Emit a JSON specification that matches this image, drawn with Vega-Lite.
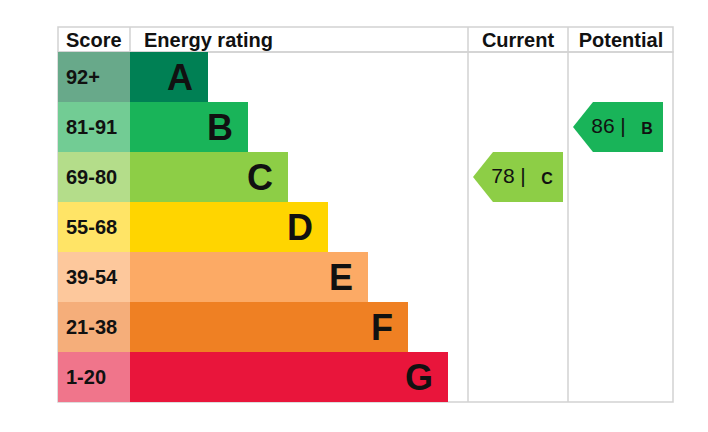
{
  "$schema": "https://vega.github.io/schema/vega-lite/v6.json",
  "autosize": {"type": "pad"},
  "bounds": "flush",
  "padding": {"left": 57, "top": 25, "right": 0, "bottom": 0},
  "spacing": 0,
  "config": {
    "font": "Liberation Sans",
    "view": {"stroke": "#d2d2d2", "strokeWidth": 1.5},
    "text": {"color": "#111111"}
  },
  "datasets": {
    "ratings": [
      {"rating": "A", "range": "92+", "end": 150},
      {"rating": "B", "range": "81-91", "end": 190},
      {"rating": "C", "range": "69-80", "end": 230},
      {"rating": "D", "range": "55-68", "end": 270},
      {"rating": "E", "range": "39-54", "end": 310},
      {"rating": "F", "range": "21-38", "end": 350},
      {"rating": "G", "range": "1-20", "end": 390}
    ],
    "arrows": [
      {"col": "Current", "score": 78, "rating": "C"},
      {"col": "Potential", "score": 86, "rating": "B"}
    ],
    "headers": [
      {"h": "Score"},
      {"h": "Energy rating"},
      {"h": "Current"},
      {"h": "Potential"}
    ],
    "one": [{}]
  },
  "vconcat": [
    {
      "width": 615,
      "height": 25,
      "layer": [
        {
          "data": {"name": "one"},
          "mark": {"type": "rule", "color": "#d2d2d2", "strokeWidth": 1.5},
          "encoding": {"x": {"datum": 72, "type": "quantitative", "scale": {"domain": [0, 615], "nice": false}, "axis": null}}
        },
        {
          "data": {"name": "one"},
          "mark": {"type": "rule", "color": "#d2d2d2", "strokeWidth": 1.5},
          "encoding": {"x": {"datum": 410, "type": "quantitative", "axis": null}}
        },
        {
          "data": {"name": "one"},
          "mark": {"type": "rule", "color": "#d2d2d2", "strokeWidth": 1.5},
          "encoding": {"x": {"datum": 510, "type": "quantitative", "axis": null}}
        },
        {
          "data": {"name": "headers"},
          "transform": [{"filter": "datum.h === 'Score'"}],
          "mark": {"type": "text", "align": "left", "baseline": "middle", "fontSize": 20, "fontWeight": "bold", "dx": 8, "dy": 1},
          "encoding": {"x": {"datum": 0, "type": "quantitative", "axis": null}, "text": {"field": "h"}}
        },
        {
          "data": {"name": "headers"},
          "transform": [{"filter": "datum.h === 'Energy rating'"}],
          "mark": {"type": "text", "align": "left", "baseline": "middle", "fontSize": 20, "fontWeight": "bold", "dx": 14, "dy": 1},
          "encoding": {"x": {"datum": 72, "type": "quantitative", "axis": null}, "text": {"field": "h"}}
        },
        {
          "data": {"name": "headers"},
          "transform": [{"filter": "datum.h === 'Current'"}],
          "mark": {"type": "text", "align": "center", "baseline": "middle", "fontSize": 20, "fontWeight": "bold", "dy": 1},
          "encoding": {"x": {"datum": 460, "type": "quantitative", "axis": null}, "text": {"field": "h"}}
        },
        {
          "data": {"name": "headers"},
          "transform": [{"filter": "datum.h === 'Potential'"}],
          "mark": {"type": "text", "align": "center", "baseline": "middle", "fontSize": 20, "fontWeight": "bold", "dy": 1},
          "encoding": {"x": {"datum": 563, "type": "quantitative", "axis": null}, "text": {"field": "h"}}
        }
      ]
    },
    {
      "width": 615,
      "height": 350,
      "layer": [
        {
          "data": {"name": "ratings"},
          "mark": {"type": "rect"},
          "encoding": {
            "x": {"datum": 0, "type": "quantitative", "scale": {"domain": [0, 615], "nice": false}, "axis": null},
            "x2": {"datum": 72},
            "y": {"field": "rating", "type": "nominal", "scale": {"domain": ["A", "B", "C", "D", "E", "F", "G"], "paddingInner": 0, "paddingOuter": 0}, "axis": null},
            "fill": {"field": "rating", "type": "nominal", "legend": null,
              "scale": {"domain": ["A", "B", "C", "D", "E", "F", "G"],
                "range": ["#68a98a", "#72cc94", "#b4dd8a", "#ffe466", "#fdc89c", "#f5ae7a", "#f0758b"]}}
          }
        },
        {
          "data": {"name": "ratings"},
          "mark": {"type": "rect"},
          "encoding": {
            "x": {"field": "end", "type": "quantitative", "axis": null},
            "x2": {"datum": 72},
            "y": {"field": "rating", "type": "nominal", "axis": null},
            "color": {"field": "rating", "type": "nominal", "legend": null,
              "scale": {"domain": ["A", "B", "C", "D", "E", "F", "G"],
                "range": ["#008054", "#19b459", "#8dce46", "#ffd500", "#fcaa65", "#ef8023", "#e9153b"]}}
          }
        },
        {
          "data": {"name": "ratings"},
          "mark": {"type": "text", "align": "left", "baseline": "middle", "fontSize": 20, "fontWeight": "bold", "dx": 8, "dy": 1},
          "encoding": {
            "x": {"datum": 0, "type": "quantitative", "axis": null},
            "y": {"field": "rating", "type": "nominal", "axis": null},
            "text": {"field": "range"}
          }
        },
        {
          "data": {"name": "ratings"},
          "mark": {"type": "text", "align": "right", "baseline": "middle", "fontSize": 36, "fontWeight": "bold", "dx": -15, "dy": 2},
          "encoding": {
            "x": {"field": "end", "type": "quantitative", "axis": null},
            "y": {"field": "rating", "type": "nominal", "axis": null},
            "text": {"field": "rating"}
          }
        },
        {
          "data": {"name": "one"},
          "mark": {"type": "rule", "color": "#d2d2d2", "strokeWidth": 1.5},
          "encoding": {"x": {"datum": 410, "type": "quantitative", "axis": null}}
        },
        {
          "data": {"name": "one"},
          "mark": {"type": "rule", "color": "#d2d2d2", "strokeWidth": 1.5},
          "encoding": {"x": {"datum": 510, "type": "quantitative", "axis": null}}
        },
        {
          "data": {"name": "arrows"},
          "transform": [{"filter": "datum.col === 'Current'"}],
          "encoding": {
            "x": {"datum": 460, "type": "quantitative", "axis": null},
            "y": {"field": "rating", "type": "nominal", "axis": null}
          },
          "layer": [
            {
              "mark": {"type": "point", "shape": "M-1,0L-0.556,-0.556L1,-0.556L1,0.556L-0.556,0.556Z", "filled": true, "size": 8100, "strokeWidth": 0, "opacity": 1},
              "encoding": {"color": {"field": "rating", "type": "nominal", "legend": null}}
            },
            {
              "mark": {"type": "text", "align": "center", "baseline": "middle", "fontSize": 21, "dx": -15},
              "encoding": {"text": {"field": "score", "type": "quantitative"}}
            },
            {
              "mark": {"type": "text", "align": "center", "baseline": "middle", "fontSize": 21, "dx": 5, "text": "|"}
            },
            {
              "mark": {"type": "text", "align": "center", "baseline": "middle", "fontSize": 16, "fontWeight": "bold", "dx": 29, "dy": 2},
              "encoding": {"text": {"field": "rating"}}
            }
          ]
        },
        {
          "data": {"name": "arrows"},
          "transform": [{"filter": "datum.col === 'Potential'"}],
          "encoding": {
            "x": {"datum": 560, "type": "quantitative", "axis": null},
            "y": {"field": "rating", "type": "nominal", "axis": null}
          },
          "layer": [
            {
              "mark": {"type": "point", "shape": "M-1,0L-0.556,-0.556L1,-0.556L1,0.556L-0.556,0.556Z", "filled": true, "size": 8100, "strokeWidth": 0, "opacity": 1},
              "encoding": {"color": {"field": "rating", "type": "nominal", "legend": null}}
            },
            {
              "mark": {"type": "text", "align": "center", "baseline": "middle", "fontSize": 21, "dx": -15},
              "encoding": {"text": {"field": "score", "type": "quantitative"}}
            },
            {
              "mark": {"type": "text", "align": "center", "baseline": "middle", "fontSize": 21, "dx": 5, "text": "|"}
            },
            {
              "mark": {"type": "text", "align": "center", "baseline": "middle", "fontSize": 16, "fontWeight": "bold", "dx": 29, "dy": 2},
              "encoding": {"text": {"field": "rating"}}
            }
          ]
        }
      ]
    }
  ]
}
